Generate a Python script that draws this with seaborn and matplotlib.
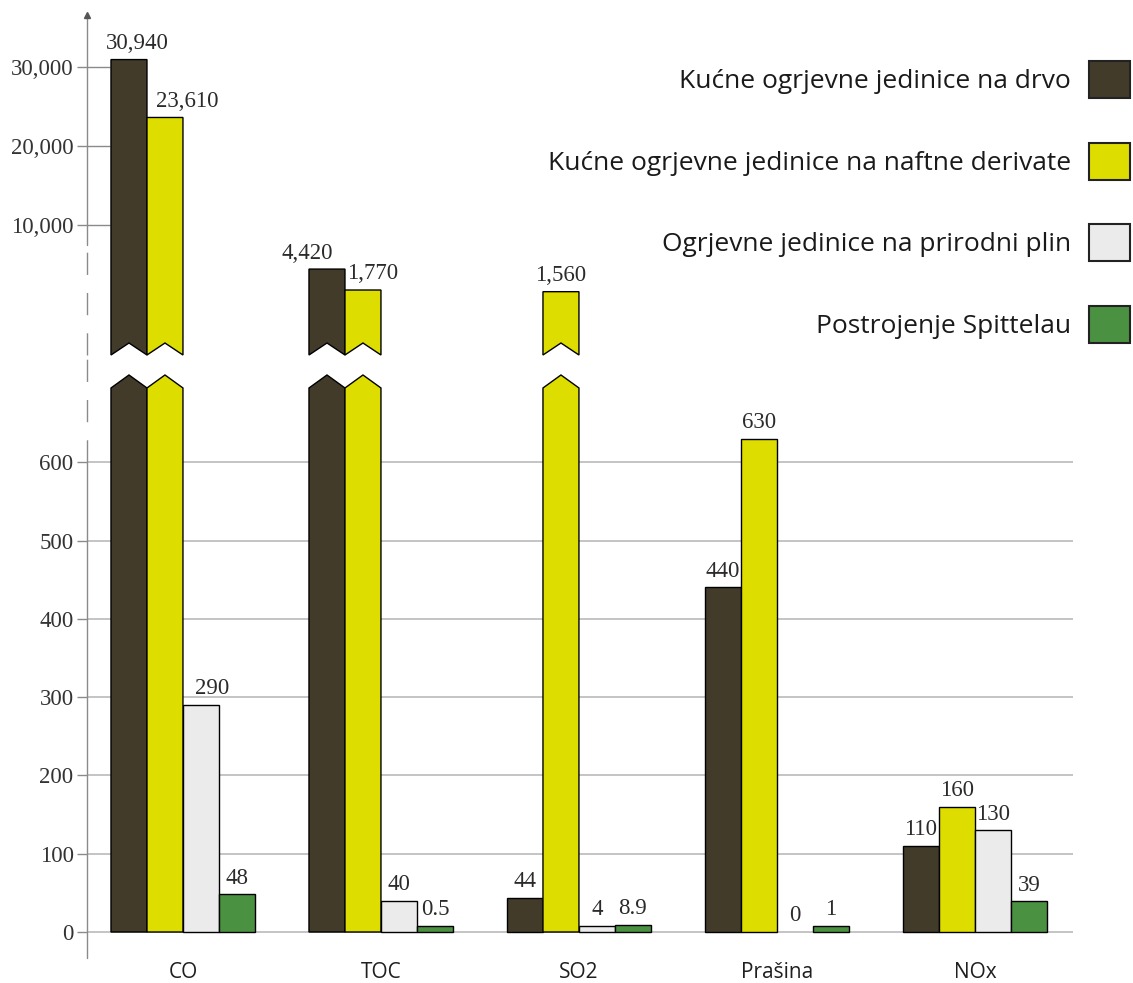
import numpy as np
import pandas as pd
import matplotlib
matplotlib.use('Agg')
import matplotlib.pyplot as plt
from matplotlib.patches import Polygon, Patch
import seaborn as sns

# emisije po izvoru (mg/kWh), vrijednosti ocitane sa slike
categories = ['CO', 'TOC', 'SO2', 'Prašina', 'NOx']
series = ['Kućne ogrjevne jedinice na drvo',
          'Kućne ogrjevne jedinice na naftne derivate',
          'Ogrjevne jedinice na prirodni plin',
          'Postrojenje Spittelau']
drvo = [30940, 4420, 44, 440, 110]
nafta = [23610, 1770, 1560, 630, 160]
plin = [290, 40, 4, 0, 130]
spittelau = [48, 0.5, 8.9, 1, 39]
colors = ['#433b2a', '#dedd00', '#ebebeb', '#4a9142']
upper_ticks = [10000, 20000, 30000]
lower_ticks = [0, 100, 200, 300, 400, 500, 600]

vals = np.array([drvo, nafta, plin, spittelau], dtype=float)

df = pd.DataFrame({
    'kat': np.tile(categories, len(series)),
    'izvor': np.repeat(series, len(categories)),
    'vrijednost': vals.ravel(),
})
# tiny bars get a minimum visible height, like in the original
df['prikaz'] = np.where(df['vrijednost'] > 0, np.maximum(df['vrijednost'], 8), 0)


def fmt(v):
    if float(v).is_integer():
        return f'{int(v):,}'
    return f'{v}'


sns.set_theme(style='white')
plt.rcParams['font.family'] = ['Liberation Serif', 'DejaVu Serif']
sans = ['Open Sans', 'DejaVu Sans']
num_size = 16.5

fig = plt.figure(figsize=(11.33, 9.83), dpi=100)
ax_lo = fig.add_axes([0.0772, 0.02543, 0.8698, 0.5931])
ax_hi = fig.add_axes([0.0772, 0.63886, 0.8698, 0.34588])

xlim = (-0.4823, 4.495)
lo_ylim = (-33.2, 711.4)
hi_ylim = (-6456, 36582)
cap_shoulder = 694.8      # where the pointed top of a cut bar starts
notch_tip = -4937         # tip of the notch at the bottom of the upper part
cut_level = 700
axis_grey = '#8a8a8a'
width = 0.727
bw = width / len(series)

for ax in (ax_lo, ax_hi):
    sns.barplot(data=df, x='kat', y='prikaz', hue='izvor', order=categories,
                hue_order=series, palette=colors, width=width, gap=0,
                saturation=1, errorbar=None, edgecolor='black', linewidth=1.0,
                legend=False, ax=ax, zorder=3)
    ax.set_xlim(*xlim)
    ax.set_xlabel('')
    ax.set_ylabel('')
    for s in ax.spines.values():
        s.set_visible(False)

ax_lo.set_ylim(*lo_ylim)
ax_hi.set_ylim(*hi_ylim)

# nudges for a few value labels (points)
nudge = {(0, 0): 6, (1, 0): 16, (0, 1): -14, (1, 1): 7, (2, 0): 8}

for ax in (ax_lo, ax_hi):
    for p in list(ax.patches):
        x0 = p.get_x()
        w = p.get_width()
        xc = x0 + w / 2
        c = int(round(xc))
        h_idx = int(round((xc - c) / bw + 1.5))
        v = vals[h_idx, c]
        h = p.get_height()
        fc = p.get_facecolor()
        if ax is ax_lo:
            if h > cut_level:
                p.set_visible(False)
                ax.add_patch(Polygon([(x0, 0), (x0 + w, 0), (x0 + w, cap_shoulder),
                                      (xc, lo_ylim[1]), (x0, cap_shoulder)],
                                     closed=True, facecolor=fc, edgecolor='black',
                                     lw=1.0, zorder=3, clip_on=False))
            else:
                if h == 0:
                    p.set_linewidth(0)
                ax.annotate(fmt(v), (xc, h), xytext=(nudge.get((h_idx, c), 0), 4),
                            textcoords='offset points', ha='center', va='bottom',
                            fontsize=num_size, color='#2b2b2b')
        else:
            p.set_visible(False)
            if h > cut_level:
                ax.add_patch(Polygon([(x0, hi_ylim[0]), (xc, notch_tip), (x0 + w, hi_ylim[0]),
                                      (x0 + w, h), (x0, h)],
                                     closed=True, facecolor=fc, edgecolor='black',
                                     lw=1.0, zorder=3, clip_on=False))
                ax.annotate(fmt(v), (xc, h), xytext=(nudge.get((h_idx, c), 0), 4),
                            textcoords='offset points', ha='center', va='bottom',
                            fontsize=num_size, color='#2b2b2b')

# lower axis: grid, ticks, axis line
ax_lo.set_yticks(lower_ticks)
ax_lo.yaxis.grid(True, color='#c4c4c4', lw=1.4)
ax_lo.set_axisbelow(True)
ax_lo.tick_params(axis='y', left=True, length=7, width=1.0, color=axis_grey,
                  pad=3, labelsize=num_size, labelcolor='#333333')
ax_lo.tick_params(axis='x', bottom=False, length=0, pad=3)
ax_lo.set_xticks(range(len(categories)))
ax_lo.set_xticklabels(categories, family=sans, fontsize=15, color='#1f1f1f')
ax_lo.plot([0, 0], [lo_ylim[0], 600], transform=ax_lo.get_yaxis_transform(),
           color=axis_grey, lw=1.0, clip_on=False)
ax_lo.plot([0, 0], [600, 737], transform=ax_lo.get_yaxis_transform(),
           color=axis_grey, lw=1.0, ls=(0, (16, 13)), clip_on=False)

# upper axis: short tick lines, dashed break, arrow
ax_hi.set_yticks(upper_ticks)
ax_hi.set_yticklabels([f'{t:,}' for t in upper_ticks])
ax_hi.tick_params(axis='y', left=True, length=7, width=1.0, color=axis_grey,
                  pad=3, labelsize=num_size, labelcolor='#333333')
ax_hi.tick_params(axis='x', bottom=False, labelbottom=False)
ax_hi.hlines(upper_ticks, xlim[0], -0.369, color=axis_grey, lw=1.0, zorder=1)
ax_hi.plot([0, 0], [7468, hi_ylim[1]], transform=ax_hi.get_yaxis_transform(),
           color=axis_grey, lw=1.0, clip_on=False)
ax_hi.plot([0, 0], [hi_ylim[0], 7468], transform=ax_hi.get_yaxis_transform(),
           color=axis_grey, lw=1.0, ls=(0, (16, 13)), clip_on=False)
ax_hi.plot([0], [1], marker='^', ms=5, color='#555555', transform=ax_hi.transAxes,
           clip_on=False)

# legend on the right, text before the swatch
fs = 19
fs_px = fs * 100 / 72
sw_h = 37
# matplotlib takes a descent off the handle height, solve for a 37 px swatch
hh = (sw_h / fs_px - 0.245) / 0.65
handles = [Patch(facecolor=c, edgecolor='#222222', lw=1.5) for c in colors]
fig.legend(handles, series, loc='upper right', bbox_to_anchor=(1130 / 1133, 1 - 61 / 983),
           markerfirst=False, frameon=False, borderpad=0, borderaxespad=0,
           handlelength=41 / fs_px, handleheight=hh,
           labelspacing=(81.5 - sw_h) / fs_px, handletextpad=18 / fs_px,
           prop={'family': sans, 'size': fs}, labelcolor='#1a1a1a')

fig.savefig('out.png', dpi=100)
